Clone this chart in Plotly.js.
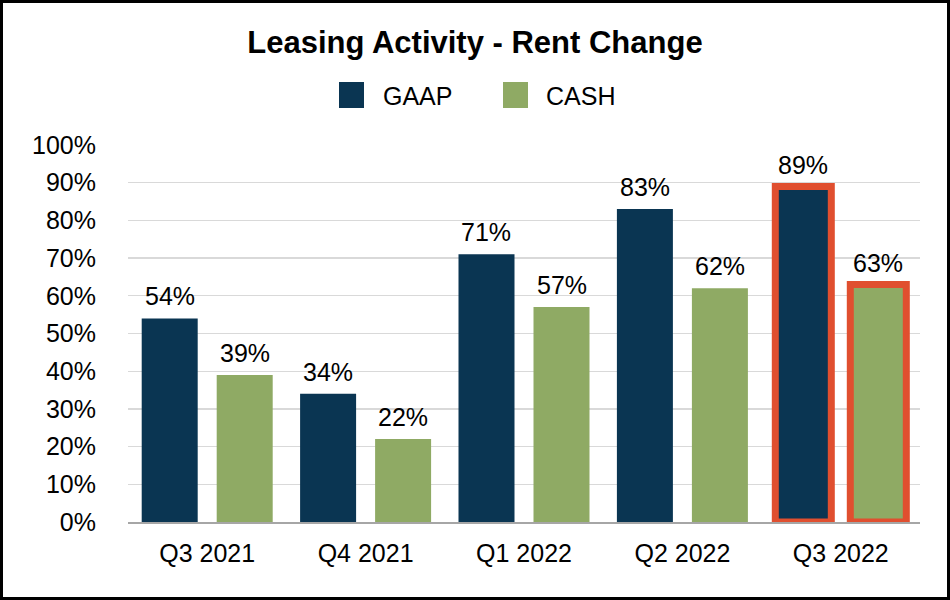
<!DOCTYPE html>
<html>
<head>
<meta charset="utf-8">
<script src="https://cdn.plot.ly/plotly-3.0.1.min.js"></script>
<style>
html,body{margin:0;padding:0;background:#fff;}
#frame{width:950px;height:600px;box-sizing:border-box;border:3px solid #000;background:#fff;}
#chart{width:944px;height:594px;}
</style>
</head>
<body>
<div id="frame"><div id="chart"></div></div>
<script>
const categories = ["Q3 2021", "Q4 2021", "Q1 2022", "Q2 2022", "Q3 2022"];
const gaapValues = [54, 34, 71, 83, 89];
const cashValues = [39, 22, 57, 62, 63];
const highlighted = [false, false, false, false, true];
const yTicks = [0, 10, 20, 30, 40, 50, 60, 70, 80, 90, 100];
const seriesNames = ["GAAP", "CASH"];
const seriesColors = ["#0A3552", "#8FAA64"];

const FONT = "Liberation Sans, Arial, sans-serif";
const RED = "#E04F2F";
const W = 944, H = 594;
const M = {l: 125, r: 27, t: 142, b: 75};
const plotW = W - M.l - M.r;
const plotH = H - M.t - M.b;
const BARGAP = 0.053, BARGROUPGAP = 0.2533;

const lineColors = highlighted.map(h => h ? RED : "rgba(0,0,0,0)");
const lineWidths = highlighted.map(h => h ? 7 : 0);

const seriesValues = [gaapValues, cashValues];
const traces = seriesValues.map((vals, i) => ({
  type: "bar",
  name: seriesNames[i],
  x: categories,
  y: vals,
  showlegend: false,
  hoverinfo: "skip",
  marker: {color: seriesColors[i], line: {color: lineColors, width: lineWidths}}
}));

// data labels, positioned through the axes (category x, value y)
const slotPx = (1 - BARGAP) * (plotW / categories.length) / 2;
const annotations = [];
seriesValues.forEach((vals, i) => {
  vals.forEach((v, j) => {
    annotations.push({
      x: categories[j], y: v, xref: "x", yref: "y",
      text: v + "%", showarrow: false,
      xshift: (i === 0 ? -1 : 1) * slotPx / 2,
      yshift: highlighted[j] ? 21 : 22,
      xanchor: "center", yanchor: "middle",
      font: {family: FONT, size: 25, color: "#000"}
    });
  });
});

// legend drawn as shapes + text (paper coordinates from pixel positions)
const px2x = p => (p - M.l) / plotW;
const py2y = p => (H - M.b - p) / plotH;
const legendItems = [
  {sq: 336, txt: 378},
  {sq: 500, txt: 541}
];
const shapes = legendItems.map((it, i) => ({
  type: "rect", xref: "paper", yref: "paper",
  x0: px2x(it.sq), x1: px2x(it.sq + 25),
  y0: py2y(105), y1: py2y(79),
  fillcolor: seriesColors[i], line: {width: 0}
}));
legendItems.forEach((it, i) => {
  annotations.push({
    xref: "paper", yref: "paper", x: px2x(it.txt), y: py2y(93),
    xanchor: "left", yanchor: "middle", showarrow: false,
    text: seriesNames[i], font: {family: FONT, size: 25, color: "#000"}
  });
});

const layout = {
  width: W, height: H,
  paper_bgcolor: "#fff", plot_bgcolor: "#fff",
  margin: M,
  font: {family: FONT, color: "#000", size: 25},
  title: {text: "<b>Leasing Activity - Rent Change</b>", x: 0.5, xanchor: "center",
          y: 1 - 39 / H, yanchor: "middle", font: {family: FONT, size: 31, color: "#000"}},
  showlegend: false,
  barmode: "group",
  bargap: BARGAP,
  bargroupgap: BARGROUPGAP,
  shapes: shapes,
  annotations: annotations,
  xaxis: {
    type: "category", showline: true, linecolor: "#A6A6A6", linewidth: 2,
    ticks: "", tickfont: {family: FONT, size: 25, color: "#000"}, ticklabelstandoff: 8,
    showgrid: false, fixedrange: true
  },
  yaxis: {
    range: [0, 100], tickvals: yTicks, ticktext: yTicks.map(v => v + "%"),
    showgrid: true, gridcolor: "#D9D9D9", gridwidth: 1.3, zeroline: false,
    showline: false, ticks: "", ticklabelstandoff: 31,
    tickfont: {family: FONT, size: 25, color: "#000"}, fixedrange: true
  }
};

Plotly.newPlot("chart", traces, layout, {displayModeBar: false, staticPlot: true});
</script>
</body>
</html>
